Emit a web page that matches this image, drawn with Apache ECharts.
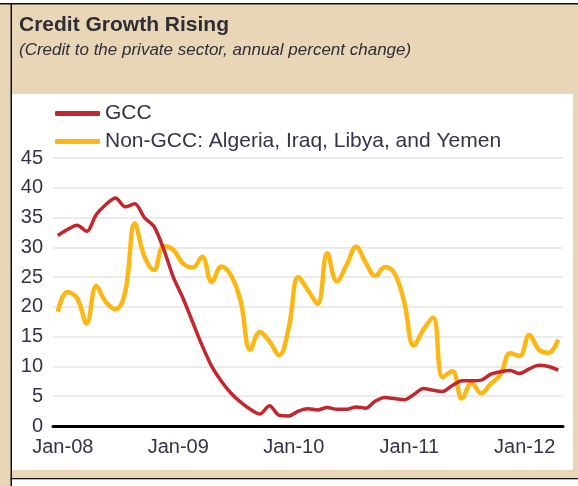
<!DOCTYPE html>
<html>
<head>
<meta charset="utf-8">
<script src="https://cdn.jsdelivr.net/npm/echarts@6/dist/echarts.min.js"></script>
<style>
  html, body { margin: 0; padding: 0; background: #e9d6b6; }
  #chart { width: 578px; height: 486px; }
</style>
</head>
<body>
<div id="chart"></div>
<script>
// Categories: monthly, Jan-08 .. May-12
const monthNames = ['Jan','Feb','Mar','Apr','May','Jun','Jul','Aug','Sep','Oct','Nov','Dec'];
const years = ['08','09','10','11','12'];
const categories = [];
for (const y of years) {
  for (const m of monthNames) {
    categories.push(m + '-' + y);
  }
}
categories.length = 53;

const gccValues = [
  32.0, 33.0, 33.7, 32.7, 35.5, 37.2, 38.3, 36.8, 37.3, 35.0, 33.5, 29.7,
  25.0, 21.5, 17.5, 13.5, 10.0, 7.5, 5.5, 4.0, 2.8, 2.0, 3.4, 1.8,
  1.7, 2.5, 2.9, 2.7, 3.1, 2.8, 2.8, 3.2, 3.0, 4.2, 4.8, 4.6,
  4.4, 5.3, 6.3, 6.0, 5.8, 6.8, 7.6, 7.6, 7.7, 8.7, 9.1, 9.3,
  8.8, 9.6, 10.2, 10.0, 9.4
];
const nonGccValues = [
  19.2, 22.5, 21.5, 17.2, 23.5, 20.8, 19.6, 22.5, 34.0, 28.5, 26.2, 30.2,
  29.6, 27.3, 26.6, 28.4, 24.2, 26.8, 25.3, 21.0, 12.8, 15.8, 14.2, 11.9,
  16.5, 25.0, 22.8, 20.5, 29.0, 24.3, 27.0, 30.1, 27.4, 25.2, 26.7, 25.6,
  20.8, 13.5, 16.2, 18.2, 8.2, 9.2, 4.6, 7.2, 5.5, 7.1, 8.6, 12.2,
  11.8, 15.3, 12.8, 12.3, 14.5
];
const yTicks = { min: 0, max: 45, interval: 5 };
const seriesNames = ['GCC', 'Non-GCC: Algeria, Iraq, Libya, and Yemen'];

const textColor = '#33334a';
const font = 'Liberation Sans, Arial, sans-serif';
const chart = echarts.init(document.getElementById('chart'), null, { renderer: 'canvas' });
chart.setOption({
  backgroundColor: '#e9d6b6',
  animation: false,
  graphic: {
    elements: [
      { type: 'rect', z: -10, shape: { x: 0, y: 0, width: 578, height: 3 }, style: { fill: '#ffffff' } },
      { type: 'rect', z: -9, shape: { x: 0, y: 3, width: 578, height: 1.5 }, style: { fill: '#111111' } },
      { type: 'rect', z: -9, shape: { x: 10.5, y: 3, width: 1.5, height: 483 }, style: { fill: '#111111' } },
      { type: 'rect', z: -9, shape: { x: 12, y: 94, width: 561, height: 376 }, style: { fill: '#ffffff' } },
      { type: 'rect', z: -9, shape: { x: 10.5, y: 478, width: 567.5, height: 1.5 }, style: { fill: '#111111' } },
      { type: 'rect', z: -9, shape: { x: 12, y: 479.5, width: 566, height: 7 }, style: { fill: '#ffffff' } }
    ]
  },
  title: {
    text: 'Credit Growth Rising',
    subtext: '(Credit to the private sector, annual percent change)',
    left: 14,
    top: 10,
    itemGap: 6,
    textStyle: { fontFamily: font, fontSize: 21, fontWeight: 'bold', color: '#2e2e36' },
    subtextStyle: { fontFamily: font, fontSize: 17, fontStyle: 'italic', color: '#2e2e36' }
  },
  legend: {
    orient: 'vertical',
    left: 55,
    top: 103,
    padding: 0,
    icon: 'roundRect',
    itemWidth: 45,
    itemHeight: 5,
    itemGap: 7,
    data: seriesNames,
    textStyle: { fontFamily: font, fontSize: 21, color: textColor }
  },
  grid: { left: 53, right: 15, top: 158, bottom: 60 },
  xAxis: {
    type: 'category',
    data: categories,
    boundaryGap: true,
    axisLine: { lineStyle: { color: '#000000', width: 3 } },
    axisTick: {
      inside: true,
      length: 5,
      interval: function (i) { return i % 12 === 0; },
      lineStyle: { color: '#777777', width: 2 }
    },
    axisLabel: {
      interval: function (i) { return i % 12 === 0; },
      fontFamily: font,
      fontSize: 20,
      color: textColor,
      margin: 11,
      padding: [0, 0, 0, 10]
    },
    splitLine: { show: false }
  },
  yAxis: {
    type: 'value',
    min: yTicks.min,
    max: yTicks.max,
    interval: yTicks.interval,
    axisLine: { show: false },
    axisTick: { show: false },
    axisLabel: {
      fontFamily: font,
      fontSize: 20,
      color: textColor,
      margin: 10
    },
    splitLine: { lineStyle: { color: '#e4e4e4', width: 1.5 } }
  },
  series: [
    {
      name: seriesNames[0],
      type: 'line',
      data: gccValues,
      symbol: 'none',
      smooth: 0.3,
      z: 3,
      lineStyle: { color: '#c1272d', width: 3.5 },
      itemStyle: { color: '#c1272d' }
    },
    {
      name: seriesNames[1],
      type: 'line',
      data: nonGccValues,
      symbol: 'none',
      smooth: 0.4,
      z: 2,
      lineStyle: { color: '#fdb714', width: 4.5 },
      itemStyle: { color: '#fdb714' }
    }
  ]
});
</script>
</body>
</html>
